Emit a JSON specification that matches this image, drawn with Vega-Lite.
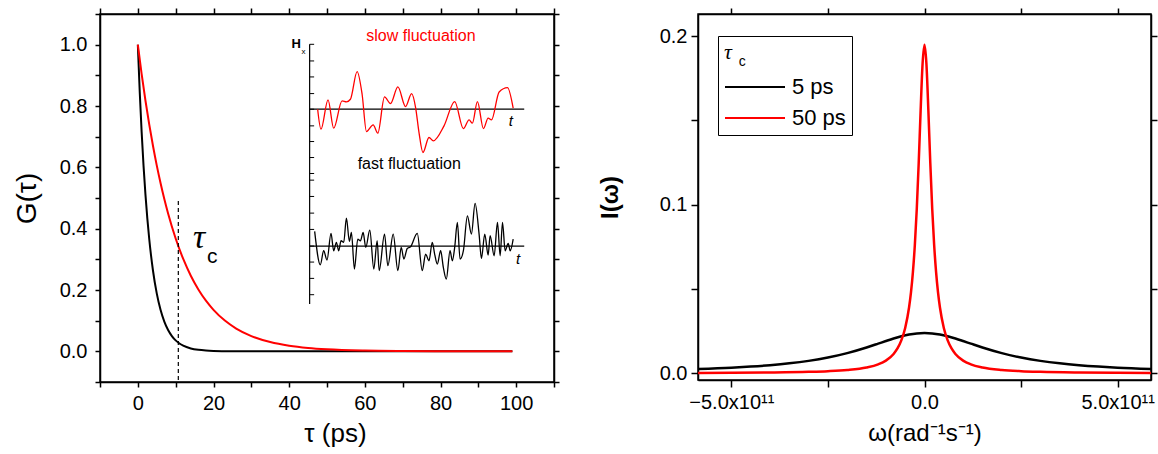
{
  "$schema": "https://vega.github.io/schema/vega-lite/v6.json",
  "background": "white",
  "padding": {"left": 12, "top": 3, "right": 0, "bottom": 0},
  "spacing": 36,
  "resolve": {"scale": {"color": "independent"}, "legend": {"color": "independent"}},
  "config": {
    "font": "Liberation Sans",
    "view": {"stroke": "black", "strokeWidth": 1.5},
    "axis": {
      "domainColor": "black", "domainWidth": 1.5,
      "tickColor": "black", "tickWidth": 1.5,
      "labelColor": "black", "titleColor": "black",
      "labelFont": "Liberation Sans", "titleFont": "Liberation Sans",
      "labelFontSize": 20, "titleFontWeight": "normal",
      "labelFlush": false, "labelOverlap": false, "grid": false
    }
  },
  "datasets": {
    "decay": [
      {"tau": 0, "G": 1, "curve": "3 ps"},
      {"tau": 0.5, "G": 0.84648, "curve": "3 ps"},
      {"tau": 1, "G": 0.71653, "curve": "3 ps"},
      {"tau": 1.5, "G": 0.60653, "curve": "3 ps"},
      {"tau": 2, "G": 0.51342, "curve": "3 ps"},
      {"tau": 2.5, "G": 0.4346, "curve": "3 ps"},
      {"tau": 3, "G": 0.36788, "curve": "3 ps"},
      {"tau": 4, "G": 0.2636, "curve": "3 ps"},
      {"tau": 5, "G": 0.18888, "curve": "3 ps"},
      {"tau": 6, "G": 0.13534, "curve": "3 ps"},
      {"tau": 7, "G": 0.09697, "curve": "3 ps"},
      {"tau": 8, "G": 0.06948, "curve": "3 ps"},
      {"tau": 9, "G": 0.04979, "curve": "3 ps"},
      {"tau": 10, "G": 0.03567, "curve": "3 ps"},
      {"tau": 11, "G": 0.02556, "curve": "3 ps"},
      {"tau": 12, "G": 0.01832, "curve": "3 ps"},
      {"tau": 14, "G": 0.0094, "curve": "3 ps"},
      {"tau": 16, "G": 0.00483, "curve": "3 ps"},
      {"tau": 18, "G": 0.00248, "curve": "3 ps"},
      {"tau": 20, "G": 0.00127, "curve": "3 ps"},
      {"tau": 25, "G": 0.00024, "curve": "3 ps"},
      {"tau": 30, "G": 0.00005, "curve": "3 ps"},
      {"tau": 40, "G": 0, "curve": "3 ps"},
      {"tau": 60, "G": 0, "curve": "3 ps"},
      {"tau": 80, "G": 0, "curve": "3 ps"},
      {"tau": 99, "G": 0, "curve": "3 ps"},
      {"tau": 0, "G": 1, "curve": "10 ps"},
      {"tau": 1, "G": 0.90484, "curve": "10 ps"},
      {"tau": 2, "G": 0.81873, "curve": "10 ps"},
      {"tau": 3, "G": 0.74082, "curve": "10 ps"},
      {"tau": 4, "G": 0.67032, "curve": "10 ps"},
      {"tau": 5, "G": 0.60653, "curve": "10 ps"},
      {"tau": 6, "G": 0.54881, "curve": "10 ps"},
      {"tau": 7, "G": 0.49659, "curve": "10 ps"},
      {"tau": 8, "G": 0.44933, "curve": "10 ps"},
      {"tau": 10, "G": 0.36788, "curve": "10 ps"},
      {"tau": 12, "G": 0.30119, "curve": "10 ps"},
      {"tau": 14, "G": 0.2466, "curve": "10 ps"},
      {"tau": 16, "G": 0.2019, "curve": "10 ps"},
      {"tau": 18, "G": 0.1653, "curve": "10 ps"},
      {"tau": 20, "G": 0.13534, "curve": "10 ps"},
      {"tau": 23, "G": 0.10026, "curve": "10 ps"},
      {"tau": 26, "G": 0.07427, "curve": "10 ps"},
      {"tau": 30, "G": 0.04979, "curve": "10 ps"},
      {"tau": 35, "G": 0.0302, "curve": "10 ps"},
      {"tau": 40, "G": 0.01832, "curve": "10 ps"},
      {"tau": 45, "G": 0.01111, "curve": "10 ps"},
      {"tau": 50, "G": 0.00674, "curve": "10 ps"},
      {"tau": 60, "G": 0.00248, "curve": "10 ps"},
      {"tau": 70, "G": 0.00091, "curve": "10 ps"},
      {"tau": 80, "G": 0.00034, "curve": "10 ps"},
      {"tau": 90, "G": 0.00012, "curve": "10 ps"},
      {"tau": 99, "G": 0.00005, "curve": "10 ps"}
    ],
    "slow": [
      {"t": 47.53, "h": 0.7895}, {"t": 48.41, "h": 0.7243}, {"t": 50.27, "h": 0.8199},
      {"t": 51.77, "h": 0.7276}, {"t": 53.98, "h": 0.8166}, {"t": 55.13, "h": 0.8134},
      {"t": 56.19, "h": 0.822}, {"t": 57.96, "h": 0.9122}, {"t": 59.28, "h": 0.8383},
      {"t": 60.43, "h": 0.7167}, {"t": 62.2, "h": 0.7384}, {"t": 63.43, "h": 0.7113},
      {"t": 65.2, "h": 0.8296}, {"t": 66.79, "h": 0.8079}, {"t": 68.73, "h": 0.8622},
      {"t": 70.77, "h": 0.7982}, {"t": 72.36, "h": 0.8405}, {"t": 73.42, "h": 0.7949},
      {"t": 74.3, "h": 0.715}, {"t": 75.36, "h": 0.6483}, {"t": 76.95, "h": 0.6972},
      {"t": 78.1, "h": 0.6863}, {"t": 80.93, "h": 0.7352}, {"t": 83.75, "h": 0.8144},
      {"t": 86.05, "h": 0.7265}, {"t": 87.55, "h": 0.7547}, {"t": 88.43, "h": 0.7439},
      {"t": 89.76, "h": 0.8144}, {"t": 91.35, "h": 0.7265}, {"t": 92.59, "h": 0.7602},
      {"t": 93.47, "h": 0.7547}, {"t": 95.5, "h": 0.8459}, {"t": 97.71, "h": 0.86},
      {"t": 99.21, "h": 0.7927}
    ],
    "fast": [
      {"t": 46.74, "h": 0.391}, {"t": 48.24, "h": 0.2824}, {"t": 49.12, "h": 0.328},
      {"t": 50.0, "h": 0.2976}, {"t": 51.06, "h": 0.3845}, {"t": 51.77, "h": 0.328},
      {"t": 52.48, "h": 0.3552}, {"t": 53.1, "h": 0.328}, {"t": 53.71, "h": 0.3606},
      {"t": 54.42, "h": 0.3552}, {"t": 55.13, "h": 0.4344}, {"t": 55.92, "h": 0.3584},
      {"t": 56.45, "h": 0.3877}, {"t": 57.25, "h": 0.2683}, {"t": 58.13, "h": 0.366},
      {"t": 58.84, "h": 0.3606}, {"t": 59.55, "h": 0.3877}, {"t": 60.25, "h": 0.3389},
      {"t": 61.31, "h": 0.3953}, {"t": 62.37, "h": 0.2683}, {"t": 63.26, "h": 0.3606},
      {"t": 63.79, "h": 0.2629}, {"t": 65.2, "h": 0.3823}, {"t": 66.08, "h": 0.2792},
      {"t": 67.5, "h": 0.3823}, {"t": 68.73, "h": 0.2629}, {"t": 69.62, "h": 0.3389},
      {"t": 70.32, "h": 0.3009}, {"t": 71.21, "h": 0.3356}, {"t": 72.09, "h": 0.341},
      {"t": 73.86, "h": 0.3845}, {"t": 75.18, "h": 0.2629}, {"t": 76.07, "h": 0.3172},
      {"t": 76.95, "h": 0.2954}, {"t": 77.83, "h": 0.3552}, {"t": 78.45, "h": 0.3172},
      {"t": 79.16, "h": 0.2846}, {"t": 80.04, "h": 0.328}, {"t": 80.75, "h": 0.2737},
      {"t": 81.54, "h": 0.2357}, {"t": 82.52, "h": 0.328}, {"t": 83.13, "h": 0.2954},
      {"t": 83.75, "h": 0.3389}, {"t": 84.46, "h": 0.4203}, {"t": 85.17, "h": 0.3009},
      {"t": 86.05, "h": 0.328}, {"t": 87.11, "h": 0.442}, {"t": 88.17, "h": 0.3823},
      {"t": 89.14, "h": 0.4822}, {"t": 90.2, "h": 0.3823}, {"t": 90.82, "h": 0.303},
      {"t": 91.7, "h": 0.3823}, {"t": 92.59, "h": 0.3139}, {"t": 93.12, "h": 0.3769},
      {"t": 94.18, "h": 0.3117}, {"t": 95.06, "h": 0.4203}, {"t": 95.77, "h": 0.3117},
      {"t": 96.39, "h": 0.4203}, {"t": 97.09, "h": 0.328}, {"t": 97.89, "h": 0.3519},
      {"t": 98.42, "h": 0.328}, {"t": 99.21, "h": 0.366}
    ],
    "insetTicks": [
      {"h": 1.0012}, {"h": 0.9469}, {"h": 0.8948}, {"h": 0.8405}, {"h": 0.7895},
      {"h": 0.7352}, {"h": 0.6841}, {"h": 0.632}, {"h": 0.5799}, {"h": 0.5582},
      {"h": 0.505}, {"h": 0.4507}, {"h": 0.3975}, {"h": 0.3432}, {"h": 0.2911},
      {"h": 0.2379}, {"h": 0.1847}
    ],
    "spectra": [
      {"omega": -5.863e11, "I": 0.0024911, "tau_c": "5 ps"},
      {"omega": -5.0e11, "I": 0.0032966, "tau_c": "5 ps"},
      {"omega": -4.5e11, "I": 0.0039423, "tau_c": "5 ps"},
      {"omega": -4.0e11, "I": 0.00478, "tau_c": "5 ps"},
      {"omega": -3.5e11, "I": 0.0058831, "tau_c": "5 ps"},
      {"omega": -3.0e11, "I": 0.0073538, "tau_c": "5 ps"},
      {"omega": -2.5e11, "I": 0.0093268, "tau_c": "5 ps"},
      {"omega": -2.0e11, "I": 0.01195, "tau_c": "5 ps"},
      {"omega": -1.5e11, "I": 0.015296, "tau_c": "5 ps"},
      {"omega": -1.2e11, "I": 0.017574, "tau_c": "5 ps"},
      {"omega": -1.0e11, "I": 0.01912, "tau_c": "5 ps"},
      {"omega": -0.8e11, "I": 0.020603, "tau_c": "5 ps"},
      {"omega": -0.6e11, "I": 0.021927, "tau_c": "5 ps"},
      {"omega": -0.4e11, "I": 0.022981, "tau_c": "5 ps"},
      {"omega": -0.2e11, "I": 0.023663, "tau_c": "5 ps"},
      {"omega": 0, "I": 0.0239, "tau_c": "5 ps"},
      {"omega": 0.2e11, "I": 0.023663, "tau_c": "5 ps"},
      {"omega": 0.4e11, "I": 0.022981, "tau_c": "5 ps"},
      {"omega": 0.6e11, "I": 0.021927, "tau_c": "5 ps"},
      {"omega": 0.8e11, "I": 0.020603, "tau_c": "5 ps"},
      {"omega": 1.0e11, "I": 0.01912, "tau_c": "5 ps"},
      {"omega": 1.2e11, "I": 0.017574, "tau_c": "5 ps"},
      {"omega": 1.5e11, "I": 0.015296, "tau_c": "5 ps"},
      {"omega": 2.0e11, "I": 0.01195, "tau_c": "5 ps"},
      {"omega": 2.5e11, "I": 0.0093268, "tau_c": "5 ps"},
      {"omega": 3.0e11, "I": 0.0073538, "tau_c": "5 ps"},
      {"omega": 3.5e11, "I": 0.0058831, "tau_c": "5 ps"},
      {"omega": 4.0e11, "I": 0.00478, "tau_c": "5 ps"},
      {"omega": 4.5e11, "I": 0.0039423, "tau_c": "5 ps"},
      {"omega": 5.0e11, "I": 0.0032966, "tau_c": "5 ps"},
      {"omega": 5.863e11, "I": 0.0024911, "tau_c": "5 ps"},
      {"omega": -5.863e11, "I": 0.00022664, "tau_c": "50 ps"},
      {"omega": -5.0e11, "I": 0.0003115, "tau_c": "50 ps"},
      {"omega": -4.0e11, "I": 0.00048628, "tau_c": "50 ps"},
      {"omega": -3.0e11, "I": 0.00086283, "tau_c": "50 ps"},
      {"omega": -2.5e11, "I": 0.0012401, "tau_c": "50 ps"},
      {"omega": -2.0e11, "I": 0.0019307, "tau_c": "50 ps"},
      {"omega": -1.5e11, "I": 0.003406, "tau_c": "50 ps"},
      {"omega": -1.2e11, "I": 0.00527, "tau_c": "50 ps"},
      {"omega": -1.0e11, "I": 0.0075, "tau_c": "50 ps"},
      {"omega": -0.8e11, "I": 0.011471, "tau_c": "50 ps"},
      {"omega": -0.7e11, "I": 0.014717, "tau_c": "50 ps"},
      {"omega": -0.6e11, "I": 0.0195, "tau_c": "50 ps"},
      {"omega": -0.5e11, "I": 0.026897, "tau_c": "50 ps"},
      {"omega": -0.4e11, "I": 0.039, "tau_c": "50 ps"},
      {"omega": -0.35e11, "I": 0.048, "tau_c": "50 ps"},
      {"omega": -0.3e11, "I": 0.06, "tau_c": "50 ps"},
      {"omega": -0.25e11, "I": 0.0761, "tau_c": "50 ps"},
      {"omega": -0.2e11, "I": 0.0975, "tau_c": "50 ps"},
      {"omega": -0.15e11, "I": 0.1248, "tau_c": "50 ps"},
      {"omega": -0.1e11, "I": 0.156, "tau_c": "50 ps"},
      {"omega": -0.05e11, "I": 0.18353, "tau_c": "50 ps"},
      {"omega": 0, "I": 0.195, "tau_c": "50 ps"},
      {"omega": 0.05e11, "I": 0.18353, "tau_c": "50 ps"},
      {"omega": 0.1e11, "I": 0.156, "tau_c": "50 ps"},
      {"omega": 0.15e11, "I": 0.1248, "tau_c": "50 ps"},
      {"omega": 0.2e11, "I": 0.0975, "tau_c": "50 ps"},
      {"omega": 0.25e11, "I": 0.0761, "tau_c": "50 ps"},
      {"omega": 0.3e11, "I": 0.06, "tau_c": "50 ps"},
      {"omega": 0.35e11, "I": 0.048, "tau_c": "50 ps"},
      {"omega": 0.4e11, "I": 0.039, "tau_c": "50 ps"},
      {"omega": 0.5e11, "I": 0.026897, "tau_c": "50 ps"},
      {"omega": 0.6e11, "I": 0.0195, "tau_c": "50 ps"},
      {"omega": 0.7e11, "I": 0.014717, "tau_c": "50 ps"},
      {"omega": 0.8e11, "I": 0.011471, "tau_c": "50 ps"},
      {"omega": 1.0e11, "I": 0.0075, "tau_c": "50 ps"},
      {"omega": 1.2e11, "I": 0.00527, "tau_c": "50 ps"},
      {"omega": 1.5e11, "I": 0.003406, "tau_c": "50 ps"},
      {"omega": 2.0e11, "I": 0.0019307, "tau_c": "50 ps"},
      {"omega": 2.5e11, "I": 0.0012401, "tau_c": "50 ps"},
      {"omega": 3.0e11, "I": 0.00086283, "tau_c": "50 ps"},
      {"omega": 4.0e11, "I": 0.00048628, "tau_c": "50 ps"},
      {"omega": 5.0e11, "I": 0.0003115, "tau_c": "50 ps"},
      {"omega": 5.863e11, "I": 0.00022664, "tau_c": "50 ps"}
    ]
  },
  "hconcat": [
    {
      "width": 454,
      "height": 368,
      "resolve": {"axis": {"x": "independent", "y": "independent"}},
      "layer": [
        {
          "data": {"name": "decay"},
          "mark": {"type": "line", "strokeWidth": 2, "interpolate": "monotone", "clip": true},
          "encoding": {
            "x": {
              "field": "tau", "type": "quantitative",
              "scale": {"domain": [-10, 110], "nice": false, "zero": false},
              "axis": {
                "orient": "bottom", "title": "τ (ps)", "titleFontSize": 26, "titlePadding": 7, "titleX": 235,
                "values": [-10, 0, 10, 20, 30, 40, 50, 60, 70, 80, 90, 100, 110],
                "labelExpr": "datum.value % 20 == 0 && datum.value >= 0 && datum.value <= 100 ? datum.label : ''",
                "tickSize": 5, "labelPadding": 6
              }
            },
            "y": {
              "field": "G", "type": "quantitative",
              "scale": {"domain": [-0.1, 1.1], "nice": false, "zero": false},
              "axis": {
                "orient": "left", "title": "G(τ)", "titleFontSize": 28, "titlePadding": 18,
                "values": [-0.1, 0, 0.1, 0.2, 0.3, 0.4, 0.5, 0.6, 0.7, 0.8, 0.9, 1.0, 1.1],
                "format": ".1f",
                "labelExpr": "indexof(['0.0','0.2','0.4','0.6','0.8','1.0'], datum.label) >= 0 ? datum.label : ''",
                "tickSize": 5, "labelPadding": 8
              }
            },
            "color": {
              "field": "curve", "type": "nominal",
              "scale": {"domain": ["3 ps", "10 ps"], "range": ["black", "#ff0000"]},
              "legend": null
            }
          }
        },
        {
          "data": {"name": "decay"},
          "mark": {"type": "point", "opacity": 0},
          "encoding": {
            "x": {
              "field": "tau", "type": "quantitative",
              "axis": {
                "orient": "top", "title": null, "labels": false, "tickSize": 6,
                "values": [-10, 0, 10, 20, 30, 40, 50, 60, 70, 80, 90, 100, 110]
              }
            },
            "y": {
              "field": "G", "type": "quantitative",
              "axis": {
                "orient": "right", "title": null, "labels": false, "tickSize": 5,
                "values": [-0.1, 0, 0.1, 0.2, 0.3, 0.4, 0.5, 0.6, 0.7, 0.8, 0.9, 1.0, 1.1]
              }
            }
          }
        },
        {
          "data": {"values": [{"tau": 10.7, "top": 0.49, "bottom": -0.1}]},
          "mark": {"type": "rule", "strokeDash": [4, 3], "strokeWidth": 1.2, "color": "black"},
          "encoding": {
            "x": {"field": "tau", "type": "quantitative", "axis": null},
            "y": {"field": "top", "type": "quantitative", "axis": null},
            "y2": {"field": "bottom"}
          }
        },
        {
          "data": {"values": [{"tau": 16.2, "G": 0.37, "text": "τ"}]},
          "mark": {"type": "text", "font": "Liberation Serif", "fontStyle": "italic", "fontSize": 34, "color": "black", "align": "center", "baseline": "middle"},
          "encoding": {
            "x": {"field": "tau", "type": "quantitative", "axis": null},
            "y": {"field": "G", "type": "quantitative", "axis": null},
            "text": {"field": "text"}
          }
        },
        {
          "data": {"values": [{"tau": 19.7, "G": 0.309, "text": "c"}]},
          "mark": {"type": "text", "fontSize": 21, "color": "black", "align": "center", "baseline": "middle"},
          "encoding": {
            "x": {"field": "tau", "type": "quantitative", "axis": null},
            "y": {"field": "G", "type": "quantitative", "axis": null},
            "text": {"field": "text"}
          }
        },
        {
          "data": {"values": [{"h": 0.7895}, {"h": 0.3432}]},
          "mark": {"type": "rule", "strokeWidth": 1.2, "color": "black"},
          "encoding": {
            "x": {"datum": 45.41, "type": "quantitative", "axis": null},
            "x2": {"datum": 102.13},
            "y": {"field": "h", "type": "quantitative", "axis": null}
          }
        },
        {
          "data": {"values": [{"top": 1.0012, "bottom": 0.1543}]},
          "mark": {"type": "rule", "strokeWidth": 1.2, "color": "black"},
          "encoding": {
            "x": {"datum": 45.41, "type": "quantitative", "axis": null},
            "y": {"field": "top", "type": "quantitative", "axis": null},
            "y2": {"field": "bottom"}
          }
        },
        {
          "data": {"name": "insetTicks"},
          "mark": {"type": "rule", "strokeWidth": 1, "color": "black"},
          "encoding": {
            "x": {"datum": 45.41, "type": "quantitative", "axis": null},
            "x2": {"datum": 46.6},
            "y": {"field": "h", "type": "quantitative", "axis": null}
          }
        },
        {
          "data": {"name": "slow"},
          "mark": {"type": "line", "strokeWidth": 1.3, "color": "#ff0000", "interpolate": "monotone"},
          "encoding": {
            "x": {"field": "t", "type": "quantitative", "axis": null},
            "y": {"field": "h", "type": "quantitative", "axis": null}
          }
        },
        {
          "data": {"name": "fast"},
          "mark": {"type": "line", "strokeWidth": 1.3, "color": "black", "interpolate": "monotone"},
          "encoding": {
            "x": {"field": "t", "type": "quantitative", "axis": null},
            "y": {"field": "h", "type": "quantitative", "axis": null}
          }
        },
        {
          "data": {"values": [{"t": 74.83, "h": 1.028, "text": "slow fluctuation"}]},
          "mark": {"type": "text", "fontSize": 16, "color": "#ff0000", "align": "center", "baseline": "middle"},
          "encoding": {
            "x": {"field": "t", "type": "quantitative", "axis": null},
            "y": {"field": "h", "type": "quantitative", "axis": null},
            "text": {"field": "text"}
          }
        },
        {
          "data": {"values": [{"t": 71.74, "h": 0.61, "text": "fast fluctuation"}]},
          "mark": {"type": "text", "fontSize": 16, "color": "black", "align": "center", "baseline": "middle"},
          "encoding": {
            "x": {"field": "t", "type": "quantitative", "axis": null},
            "y": {"field": "h", "type": "quantitative", "axis": null},
            "text": {"field": "text"}
          }
        },
        {
          "data": {"values": [{"t": 41.88, "h": 1.0034, "text": "H"}]},
          "mark": {"type": "text", "fontSize": 13, "fontWeight": "bold", "color": "black", "align": "center", "baseline": "middle"},
          "encoding": {
            "x": {"field": "t", "type": "quantitative", "axis": null},
            "y": {"field": "h", "type": "quantitative", "axis": null},
            "text": {"field": "text"}
          }
        },
        {
          "data": {"values": [{"t": 43.8, "h": 0.977, "text": "x"}]},
          "mark": {"type": "text", "fontSize": 8, "color": "black", "align": "center", "baseline": "middle"},
          "encoding": {
            "x": {"field": "t", "type": "quantitative", "axis": null},
            "y": {"field": "h", "type": "quantitative", "axis": null},
            "text": {"field": "text"}
          }
        },
        {
          "data": {"values": [{"t": 98.6, "h": 0.7515, "text": "t"}, {"t": 100.5, "h": 0.3009, "text": "t"}]},
          "mark": {"type": "text", "fontSize": 15, "fontStyle": "italic", "color": "black", "align": "center", "baseline": "middle"},
          "encoding": {
            "x": {"field": "t", "type": "quantitative", "axis": null},
            "y": {"field": "h", "type": "quantitative", "axis": null},
            "text": {"field": "text"}
          }
        }
      ]
    },
    {
      "width": 453,
      "height": 366,
      "resolve": {"axis": {"x": "independent", "y": "independent"}},
      "layer": [
        {
          "data": {"name": "spectra"},
          "mark": {"type": "line", "strokeWidth": 2.5, "interpolate": "monotone", "clip": true},
          "encoding": {
            "x": {
              "field": "omega", "type": "quantitative",
              "scale": {"domain": [-5.863e11, 5.863e11], "nice": false, "zero": false},
              "axis": {
                "orient": "bottom", "title": "ω(rad⁻¹s⁻¹)", "titleFontSize": 24, "titlePadding": 9,
                "values": [-5e11, -2.5e11, 0, 2.5e11, 5e11],
                "labelExpr": "datum.value == 0 ? '0.0' : (abs(datum.value) > 4e11 ? format(datum.value / 1e11, '.1f') + 'x10¹¹' : '')",
                "tickSize": 7, "labelPadding": 5
              }
            },
            "y": {
              "field": "I", "type": "quantitative",
              "scale": {"domain": [-0.004, 0.2132], "nice": false, "zero": false},
              "axis": {
                "orient": "left", "title": "I(ω)", "titleFontSize": 24, "titleFontWeight": "bold", "titlePadding": 37,
                "values": [0, 0.05, 0.1, 0.15, 0.2],
                "labelExpr": "datum.value == 0 ? '0.0' : (datum.value == 0.1 ? '0.1' : (datum.value == 0.2 ? '0.2' : ''))",
                "tickSize": 7, "labelPadding": 4
              }
            },
            "color": {
              "field": "tau_c", "type": "nominal",
              "scale": {"domain": ["5 ps", "50 ps"], "range": ["black", "#ff0000"]},
              "legend": {
                "orient": "none", "legendX": 20, "legendY": 22,
                "title": "τ", "titleFont": "Liberation Serif", "titleFontStyle": "italic",
                "titleFontWeight": "normal", "titleFontSize": 22, "titleColor": "black", "titlePadding": 13,
                "strokeColor": "black", "padding": 6,
                "symbolType": "stroke", "symbolSize": 3600, "symbolStrokeWidth": 2,
                "labelFontSize": 22, "labelColor": "black", "labelOffset": 6,
                "clipHeight": 20, "rowPadding": 9
              }
            }
          }
        },
        {
          "data": {"name": "spectra"},
          "mark": {"type": "point", "opacity": 0},
          "encoding": {
            "x": {
              "field": "omega", "type": "quantitative",
              "axis": {"orient": "top", "title": null, "labels": false, "tickSize": 6, "values": [-5e11, -2.5e11, 0, 2.5e11, 5e11]}
            },
            "y": {
              "field": "I", "type": "quantitative",
              "axis": {"orient": "right", "title": null, "labels": false, "tickSize": 6, "values": [0, 0.05, 0.1, 0.15, 0.2]}
            }
          }
        },
        {
          "data": {"values": [{"omega": -4.72e11, "I": 0.185, "text": "c"}]},
          "mark": {"type": "text", "fontSize": 14, "color": "black", "align": "center", "baseline": "middle"},
          "encoding": {
            "x": {"field": "omega", "type": "quantitative", "axis": null},
            "y": {"field": "I", "type": "quantitative", "axis": null},
            "text": {"field": "text"}
          }
        }
      ]
    }
  ]
}
